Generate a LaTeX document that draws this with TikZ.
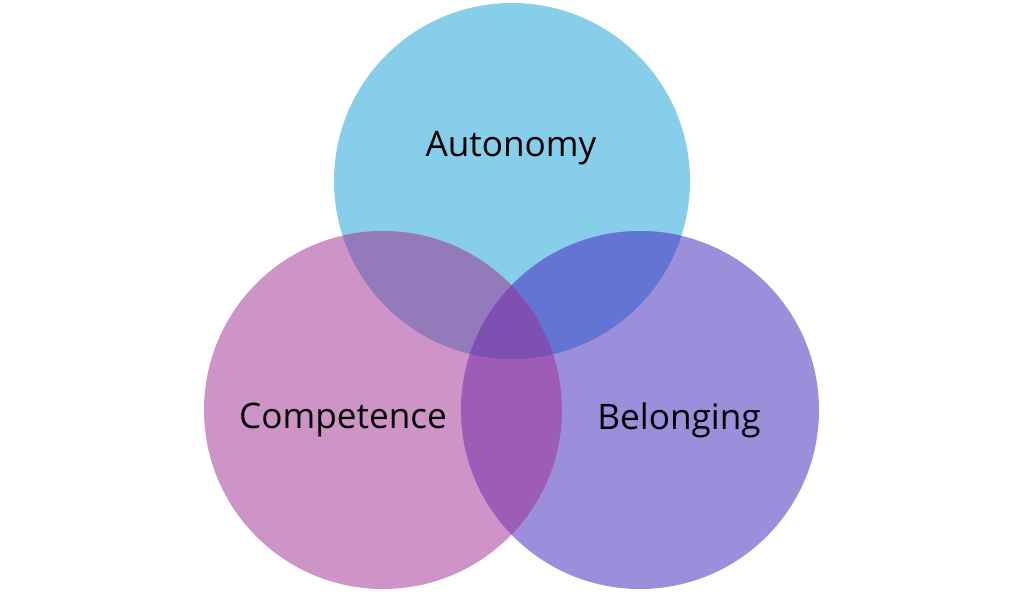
\documentclass[tikz,border=0pt]{standalone}
\usepackage{fontspec}
\setmainfont{Open Sans}
\usetikzlibrary{positioning}
\definecolor{autoC}{RGB}{135,206,235}
\definecolor{compC}{RGB}{206,148,200}
\definecolor{belC}{RGB}{155,142,219}
\definecolor{acC}{RGB}{146,122,187}
\definecolor{abC}{RGB}{100,116,210}
\definecolor{cbC}{RGB}{157,92,182}
\definecolor{allC}{RGB}{126,80,178}
\begin{document}
\begin{tikzpicture}[x=0.01cm, y=0.01cm,
        label/.style={font=\fontsize{10}{12}\selectfont, text=black}
    ]
        \useasboundingbox (0,0) rectangle (1023,597);
        % Circles
        \coordinate (auto) at (512,416);
        \coordinate (comp) at (383,187);
        \coordinate (bel) at (640,187);
        \fill[autoC] (auto) circle (178);
        \fill[compC] (comp) circle (179);
        \fill[belC] (bel) circle (179);
        % Overlaps
        \begin{scope}
            \clip (auto) circle (178);
            \fill[acC] (comp) circle (179);
            \fill[abC] (bel) circle (179);
        \end{scope}
        \begin{scope}
            \clip (comp) circle (179);
            \fill[cbC] (bel) circle (179);
            \clip (bel) circle (179);
            \fill[allC] (auto) circle (178);
        \end{scope}
        % Labels
        \node[label] (autoL) at (511,449) {Autonomy};
        \node[label] (compL) at (343,177) {Competence};
        \node[label] (belL) at (679,177) {Belonging};
    \end{tikzpicture}
\end{document}
